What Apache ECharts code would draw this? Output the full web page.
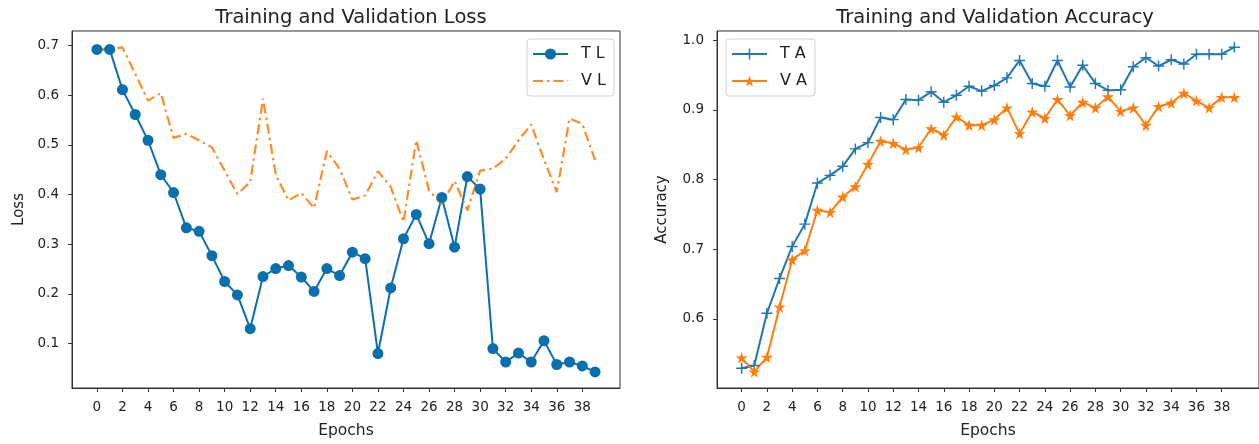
<!DOCTYPE html>
<html>
<head>
<meta charset="utf-8">
<script src="https://cdn.jsdelivr.net/npm/echarts@6/dist/echarts.min.js"></script>
<style>
  html, body { margin: 0; padding: 0; background: #fff; }
  #chart { width: 1259px; height: 444px; }
</style>
</head>
<body>
<div id="chart"></div>
<script>
// epochs 0..39
const epochs = [0, 1, 2, 3, 4, 5, 6, 7, 8, 9, 10, 11, 12, 13, 14, 15, 16, 17, 18, 19,
  20, 21, 22, 23, 24, 25, 26, 27, 28, 29, 30, 31, 32, 33, 34, 35, 36, 37, 38, 39];
const epochTicks = [0, 2, 4, 6, 8, 10, 12, 14, 16, 18, 20, 22, 24, 26, 28, 30, 32, 34, 36, 38];
const lossTicks = [0.1, 0.2, 0.3, 0.4, 0.5, 0.6, 0.7];
const accTicks = [0.6, 0.7, 0.8, 0.9, 1.0];

const trainLoss = [0.692, 0.692, 0.611, 0.561, 0.509, 0.440, 0.404, 0.333, 0.326, 0.277,
  0.225, 0.198, 0.130, 0.235, 0.251, 0.257, 0.234, 0.205, 0.251, 0.237,
  0.284, 0.271, 0.080, 0.212, 0.311, 0.360, 0.301, 0.394, 0.294, 0.436,
  0.411, 0.090, 0.063, 0.081, 0.063, 0.106, 0.058, 0.063, 0.055, 0.043];
const valLoss = [0.692, 0.692, 0.696, 0.643, 0.589, 0.604, 0.514, 0.522, 0.509, 0.495,
  0.448, 0.401, 0.425, 0.593, 0.440, 0.388, 0.403, 0.373, 0.487, 0.452,
  0.390, 0.398, 0.447, 0.415, 0.345, 0.509, 0.408, 0.381, 0.427, 0.368,
  0.448, 0.452, 0.472, 0.509, 0.541, 0.470, 0.405, 0.553, 0.542, 0.469];
const trainAcc = [0.529, 0.533, 0.608, 0.658, 0.704, 0.736, 0.795, 0.806, 0.819, 0.844,
  0.853, 0.889, 0.886, 0.915, 0.914, 0.926, 0.911, 0.921, 0.934, 0.927,
  0.935, 0.946, 0.971, 0.938, 0.934, 0.971, 0.933, 0.964, 0.938, 0.928,
  0.929, 0.962, 0.975, 0.963, 0.972, 0.966, 0.980, 0.980, 0.980, 0.990];
const valAcc = [0.544, 0.524, 0.545, 0.617, 0.685, 0.698, 0.756, 0.753, 0.775, 0.790,
  0.822, 0.855, 0.852, 0.843, 0.846, 0.873, 0.864, 0.890, 0.878, 0.878,
  0.886, 0.903, 0.866, 0.897, 0.888, 0.915, 0.892, 0.911, 0.903, 0.919,
  0.898, 0.903, 0.878, 0.905, 0.910, 0.924, 0.913, 0.903, 0.918, 0.918];

const FONT = 'DejaVu Sans';
const TXT = '#222';
const BLUE = '#0a6fad';
const BLUE2 = '#1f77b4';
const ORANGE = '#ff7f0e';

const PLUS = 'path://M8.7,0H11.3V8.7H20V11.3H11.3V20H8.7V11.3H0V8.7H8.7Z';
const STAR = 'path://M50,0L61,35L98,35L68,57L79,91L50,70L21,91L32,57L2,35L39,35Z';

const pairs = ys => epochs.map((e, i) => [e, ys[i]]);

function xAxisFor(idx) {
  return {
    type: 'value', gridIndex: idx, min: -1.95, max: 40.95,
    name: 'Epochs', nameLocation: 'middle', nameGap: 35,
    nameTextStyle: { fontFamily: FONT, fontSize: 15.5, color: TXT },
    axisLine: { show: true, onZero: false, lineStyle: { color: '#333', width: 1 } },
    axisTick: { show: true, length: 4, customValues: epochTicks, lineStyle: { color: '#333' } },
    axisLabel: { customValues: epochTicks, margin: 12, fontFamily: FONT, fontSize: 13.5, color: TXT },
    splitLine: { show: false }
  };
}

function yAxisFor(idx, min, max, ticks, name, gap) {
  return {
    type: 'value', gridIndex: idx, min, max,
    name, nameLocation: 'middle', nameGap: gap, nameRotate: 90,
    nameTextStyle: { fontFamily: FONT, fontSize: 15, color: TXT },
    axisLine: { show: true, onZero: false, lineStyle: { color: '#333', width: 1 } },
    axisTick: { show: true, length: 4, customValues: ticks, lineStyle: { color: '#333' } },
    axisLabel: {
      customValues: ticks, margin: 13, fontFamily: FONT, fontSize: 13.5, color: TXT,
      formatter: v => v.toFixed(1)
    },
    splitLine: { show: false }
  };
}

function legendFor(left, names) {
  return {
    orient: 'vertical', left, top: 39, data: names,
    itemWidth: 35, itemHeight: 14, itemGap: 11,
    padding: [7, 8, 7, 5],
    backgroundColor: 'rgba(255,255,255,0.8)',
    borderColor: '#d0d0d0', borderWidth: 1, borderRadius: 3,
    textStyle: { fontFamily: FONT, fontSize: 16, color: TXT, padding: [0, 0, 0, 8] }
  };
}

const chart = echarts.init(document.getElementById('chart'), null, { renderer: 'canvas' });
chart.setOption({
  animation: false,
  backgroundColor: '#fff',
  title: [
    { text: 'Training and Validation Loss', left: 346, top: 3, textAlign: 'center',
      textStyle: { fontFamily: FONT, fontSize: 19.5, fontWeight: 'normal', color: TXT } },
    { text: 'Training and Validation Accuracy', left: 990, top: 3, textAlign: 'center',
      textStyle: { fontFamily: FONT, fontSize: 19.5, fontWeight: 'normal', color: TXT } }
  ],
  grid: [
    { left: 72, top: 31, width: 548, height: 357, show: true, borderColor: '#333', borderWidth: 1, backgroundColor: 'transparent' },
    { left: 717, top: 31, width: 547, height: 357, show: true, borderColor: '#333', borderWidth: 1, backgroundColor: 'transparent' }
  ],
  legend: [
    legendFor(527, ['T L', { name: 'V L', itemStyle: { opacity: 0 } }]),
    legendFor(726, ['T A', 'V A'])
  ],
  xAxis: [xAxisFor(0), xAxisFor(1)],
  yAxis: [
    yAxisFor(0, 0.0107, 0.729, lossTicks, 'Loss', 45),
    yAxisFor(1, 0.5007, 1.0133, accTicks, 'Accuracy', 47)
  ],
  series: [
    { name: 'T L', type: 'line', xAxisIndex: 0, yAxisIndex: 0, data: pairs(trainLoss),
      symbol: 'circle', symbolSize: 11, showAllSymbol: true,
      lineStyle: { color: BLUE, width: 2 }, itemStyle: { color: BLUE } },
    { name: 'V L', type: 'line', xAxisIndex: 0, yAxisIndex: 0, data: pairs(valLoss),
      symbol: 'none', showSymbol: false,
      lineStyle: { color: ORANGE, width: 2.2, type: [10, 4, 2.5, 4], opacity: 0.9 }, itemStyle: { color: ORANGE } },
    { name: 'T A', type: 'line', xAxisIndex: 1, yAxisIndex: 1, data: pairs(trainAcc),
      symbol: PLUS, symbolSize: 11, showAllSymbol: true,
      lineStyle: { color: BLUE2, width: 2 }, itemStyle: { color: BLUE2 } },
    { name: 'V A', type: 'line', xAxisIndex: 1, yAxisIndex: 1, data: pairs(valAcc),
      symbol: STAR, symbolSize: 12, showAllSymbol: true,
      lineStyle: { color: ORANGE, width: 2 }, itemStyle: { color: ORANGE } }
  ]
});
</script>
</body>
</html>
